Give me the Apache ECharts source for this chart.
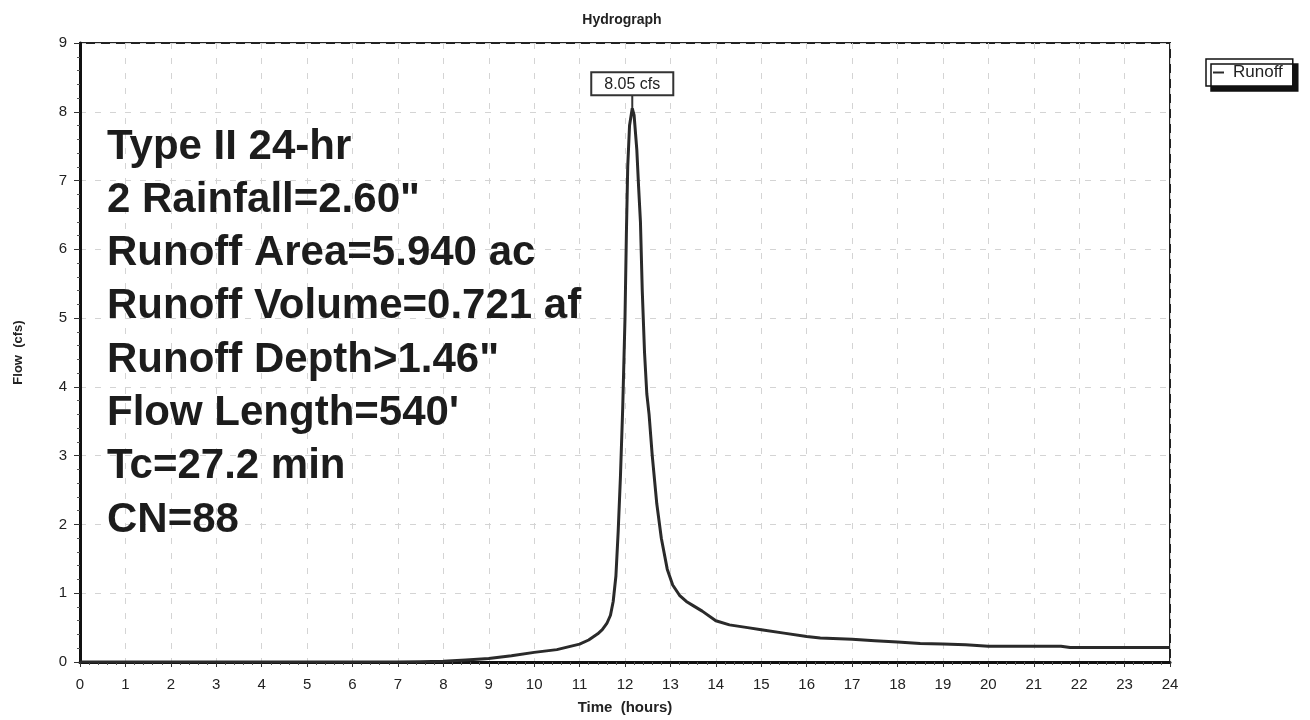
<!DOCTYPE html>
<html>
<head>
<meta charset="utf-8">
<script src="https://cdn.jsdelivr.net/npm/echarts@6/dist/echarts.min.js"></script>
<style>
html,body{margin:0;padding:0;background:#fff;}
#chart{width:1310px;height:720px;}
</style>
</head>
<body>
<div id="chart"></div>
<script>
const timeHours = [0, 2, 4, 6, 7, 7.5, 8, 8.5, 9, 9.5, 10, 10.5, 11, 11.2, 11.4, 11.5, 11.6, 11.68, 11.74, 11.8, 11.85, 11.9, 11.95, 12.0, 12.03, 12.06, 12.1, 12.16, 12.2, 12.26, 12.3, 12.34, 12.38, 12.43, 12.48, 12.53, 12.6, 12.7, 12.8, 12.93, 13.05, 13.2, 13.35, 13.5, 13.7, 14.0, 14.3, 14.7, 15.0, 15.5, 16.0, 16.3, 17.0, 17.5, 18.0, 18.5, 19.0, 19.5, 20.0, 20.5, 21.0, 21.6, 21.8, 22.5, 23.0, 24.0];
const runoffCfs = [0, 0, 0, 0, 0, 0.005, 0.01, 0.03, 0.05, 0.09, 0.14, 0.18, 0.26, 0.32, 0.41, 0.47, 0.56, 0.68, 0.88, 1.25, 1.9, 2.7, 3.7, 5.0, 6.2, 7.2, 7.8, 8.05, 7.95, 7.45, 6.9, 6.4, 5.4, 4.5, 3.9, 3.6, 3.0, 2.3, 1.8, 1.35, 1.12, 0.97, 0.88, 0.82, 0.74, 0.6, 0.54, 0.5, 0.47, 0.42, 0.37, 0.35, 0.33, 0.31, 0.29, 0.27, 0.26, 0.25, 0.23, 0.23, 0.23, 0.23, 0.21, 0.21, 0.21, 0.21];
const peakLabel = '8.05 cfs';
const xTicks = [0, 24, 1];
const yTicks = [0, 9, 1];
const infoLines = ['Type II 24-hr', '2 Rainfall=2.60"', 'Runoff Area=5.940 ac', 'Runoff Volume=0.721 af', 'Runoff Depth>1.46"', "Flow Length=540'", 'Tc=27.2 min', 'CN=88'];
const seriesName = 'Runoff';

const peakIdx = runoffCfs.indexOf(Math.max(...runoffCfs));
const seriesData = timeHours.map((t, i) => [t, runoffCfs[i]]);

const chart = echarts.init(document.getElementById('chart'), null, { renderer: 'canvas' });
const FONT = 'Liberation Sans, Arial, sans-serif';

const graphics = infoLines.map((s, i) => ({
  type: 'text',
  left: 107,
  top: 126 + i * 53.3,
  z: 1,
  style: { text: s, fontFamily: FONT, fontWeight: 'bold', fontSize: 42, fill: '#1c1c1c' }
}));

chart.setOption({
  animation: false,
  backgroundColor: '#fff',
  title: {
    text: 'Hydrograph', left: 617, top: 8, textAlign: 'center',
    textStyle: { fontFamily: FONT, fontWeight: 'bold', fontSize: 14, color: '#222' }
  },
  legend: {
    data: [seriesName], left: 1206, top: 59,
    backgroundColor: '#fff', borderColor: '#111', borderWidth: 1.5,
    shadowColor: '#111', shadowOffsetX: 5, shadowOffsetY: 5, shadowBlur: 0,
    padding: [5, 10, 5, 7], itemGap: 4,
    icon: 'rect', itemWidth: 11, itemHeight: 2,
    textStyle: { fontFamily: FONT, fontSize: 17, color: '#222', padding: [0, 0, 0, 4] }
  },
  grid: { left: 80, right: 140, top: 43, bottom: 57, show: true, borderColor: '#222', borderWidth: 2 },
  xAxis: {
    type: 'value', min: xTicks[0], max: xTicks[1], interval: xTicks[2],
    name: 'Time  (hours)', nameLocation: 'middle', nameGap: 38,
    nameTextStyle: { fontFamily: FONT, fontWeight: 'bold', fontSize: 15, color: '#222' },
    axisLine: { lineStyle: { color: '#111', width: 3 } },
    axisTick: { show: true, length: 5, lineStyle: { color: '#333' } },
    minorTick: { show: true, splitNumber: 5, length: 3, lineStyle: { color: '#555' } },
    axisLabel: { fontFamily: FONT, fontSize: 15, color: '#222', margin: 15 },
    splitLine: { show: true, lineStyle: { color: '#d4d4d4', type: [6, 9], width: 1 } }
  },
  yAxis: {
    type: 'value', min: yTicks[0], max: yTicks[1], interval: yTicks[2],
    name: 'Flow  (cfs)', nameLocation: 'middle', nameGap: 55, nameRotate: 90,
    nameTextStyle: { fontFamily: FONT, fontWeight: 'bold', fontSize: 13, color: '#222' },
    axisLine: { show: true, lineStyle: { color: '#111', width: 3 } },
    axisTick: { show: true, length: 6, lineStyle: { color: '#333' } },
    minorTick: { show: true, splitNumber: 5, length: 3, lineStyle: { color: '#555' } },
    axisLabel: { fontFamily: FONT, fontSize: 15, color: '#222', margin: 13 },
    splitLine: { show: true, lineStyle: { color: '#d4d4d4', type: [6, 9], width: 1 } }
  },
  graphic: graphics,
  series: [{
    name: seriesName, type: 'line', data: seriesData,
    showSymbol: false, symbol: 'none', smooth: false,
    lineStyle: { color: '#2a2a2a', width: 3 },
    itemStyle: { color: '#2a2a2a' },
    z: 3,
    markPoint: {
      silent: true,
      data: [{
        coord: seriesData[peakIdx],
        symbol: 'rect', symbolSize: [2, 14], symbolOffset: [0, -7],
        itemStyle: { color: '#333' },
        label: {
          show: true, position: 'top', distance: 0,
          formatter: peakLabel,
          fontFamily: FONT, fontSize: 16, color: '#222',
          backgroundColor: '#fff', borderColor: '#333', borderWidth: 2,
          padding: [3, 12, 2, 12]
        }
      }]
    }
  }]
});
</script>
</body>
</html>
